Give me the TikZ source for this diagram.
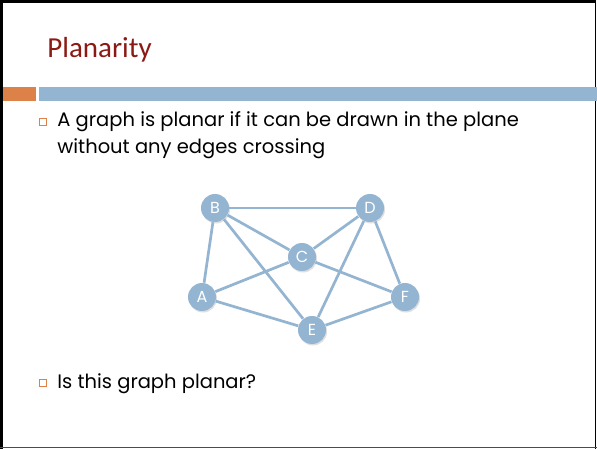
\documentclass[tikz,border=0pt]{standalone}
\usepackage{fontspec}
\setmainfont{Poppins}
\newfontfamily\titlefont{Carlito}
\usetikzlibrary{shadows}
\definecolor{titolo}{HTML}{8C1A14}
\definecolor{arancio}{HTML}{DC8148}
\definecolor{azzurro}{HTML}{94B5D1}

\begin{document}
\begin{tikzpicture}[x=1pt, y=-1pt, thick]
	% Stili
	\tikzset{nodo/.style={circle, fill=azzurro, minimum size=28pt, inner sep=0pt, text=white, font=\fontsize{16}{16}\selectfont, drop shadow={opacity=0.25, shadow xshift=1pt, shadow yshift=-1.5pt}}}
	\tikzset{arco/.style={draw=azzurro, line width=2.7pt}}
	\tikzset{punto/.style={draw=arancio, line width=0.8pt, minimum size=7pt, inner sep=0pt}}
	\tikzset{testo/.style={anchor=base west, inner sep=0pt, font=\fontsize{19.5}{19.5}\selectfont}}

	% Cornice
	\useasboundingbox (0,0) rectangle (597,449);
	\fill[white] (0,0) rectangle (597,449);
	\draw[line width=3pt] (1.5,449) -- (1.5,1.5) -- (596,1.5);
	\draw[line width=1.5pt] (595.5,1.5) -- (595.5,449);
	\draw[line width=1.5pt, black!70] (0,447.5) -- (597,447.5);

	% Titolo e barre
	\node[anchor=base west, inner sep=0pt, text=titolo, font=\titlefont\fontsize{29}{29}\selectfont] (titolo) at (47,58) {Planarity};
	\fill[arancio] (3,87) rectangle (36,101);
	\fill[azzurro] (39,87) rectangle (597,101);

	% Punti elenco
	\node[punto] (p1) at (43,122) {};
	\node[testo] (t1) at (57,127) {A graph is planar if it can be drawn in the plane};
	\node[testo] (t2) at (57,154) {without any edges crossing};
	\node[punto] (p2) at (43,383) {};
	\node[testo] (t3) at (57,388) {Is this graph planar?};

	% Nodi del grafo
	\node[nodo] (B) at (215,208) {B};
	\node[nodo] (D) at (370,208) {D};
	\node[nodo] (C) at (302,257) {C};
	\node[nodo] (A) at (202,297) {A};
	\node[nodo] (F) at (405,297) {F};
	\node[nodo] (E) at (312,330) {E};

	% Archi
	\draw[arco] (B) -- (D);
	\draw[arco] (B) -- (A);
	\draw[arco] (B) -- (C);
	\draw[arco] (B) -- (E);
	\draw[arco] (D) -- (C);
	\draw[arco] (D) -- (E);
	\draw[arco] (D) -- (F);
	\draw[arco] (C) -- (A);
	\draw[arco] (C) -- (F);
	\draw[arco] (A) -- (E);
	\draw[arco] (E) -- (F);
\end{tikzpicture}
\end{document}
